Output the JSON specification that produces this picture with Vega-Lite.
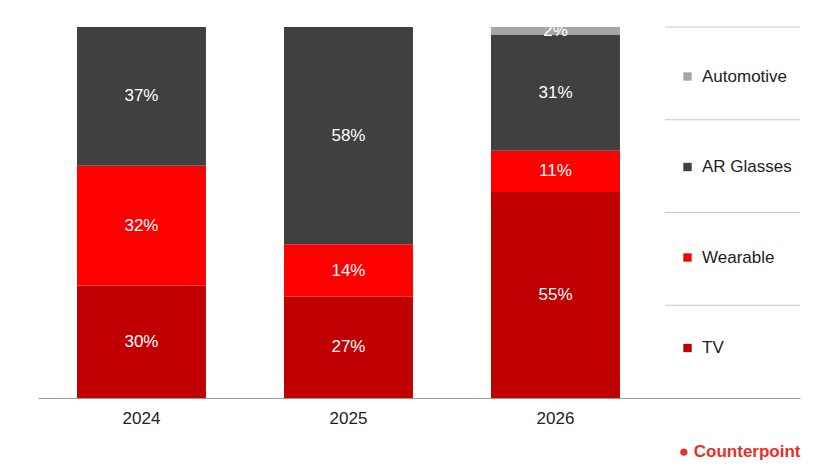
{
  "$schema": "https://vega.github.io/schema/vega-lite/v6.json",
  "autosize": "none",
  "width": 762,
  "height": 371,
  "padding": {"left": 38, "top": 27, "right": 16, "bottom": 73},
  "background": "white",
  "config": {"font": "Liberation Sans", "view": {"stroke": null}},
  "title": {"text": "● Counterpoint", "orient": "bottom", "anchor": "end", "color": "#e8302a", "fontSize": 17, "fontWeight": "bold", "offset": 18},
  "datasets": {
    "shares": [
      {"year": "2024", "segment": "TV", "rank": 1, "share": 30},
      {"year": "2024", "segment": "Wearable", "rank": 2, "share": 32},
      {"year": "2024", "segment": "AR Glasses", "rank": 3, "share": 37},
      {"year": "2025", "segment": "TV", "rank": 1, "share": 27},
      {"year": "2025", "segment": "Wearable", "rank": 2, "share": 14},
      {"year": "2025", "segment": "AR Glasses", "rank": 3, "share": 58},
      {"year": "2026", "segment": "TV", "rank": 1, "share": 55},
      {"year": "2026", "segment": "Wearable", "rank": 2, "share": 11},
      {"year": "2026", "segment": "AR Glasses", "rank": 3, "share": 31},
      {"year": "2026", "segment": "Automotive", "rank": 4, "share": 2}
    ],
    "separators": [{"y": 1}, {"y": 0.75}, {"y": 0.5}, {"y": 0.25}]
  },
  "layer": [
    {
      "data": {"name": "separators"},
      "mark": {"type": "rule", "color": "#c8c8c8", "strokeWidth": 1},
      "encoding": {
        "x": {"value": 627},
        "x2": {"value": 762},
        "y": {"field": "y", "type": "quantitative", "scale": {"domain": [0, 1]}, "axis": null}
      }
    },
    {
      "data": {"name": "shares"},
      "transform": [
        {"stack": "share", "groupby": ["year"], "sort": [{"field": "rank", "order": "ascending"}], "as": ["y0", "y1"], "offset": "normalize"},
        {"calculate": "(datum.y0 + datum.y1) / 2", "as": "ymid"},
        {"calculate": "datum.share + '%'", "as": "label"}
      ],
      "layer": [
        {
          "mark": {"type": "bar"},
          "encoding": {
            "x": {"field": "year", "type": "nominal", "scale": {"paddingInner": 0.377, "paddingOuter": 0.529, "align": 0.178},
              "axis": {"title": null, "labelAngle": 0, "labelFontSize": 17, "labelColor": "#222", "ticks": false, "domainColor": "#999", "labelPadding": 12}},
            "y": {"field": "y0", "type": "quantitative", "scale": {"domain": [0, 1]}, "axis": null},
            "y2": {"field": "y1"},
            "color": {"field": "segment", "type": "nominal",
              "scale": {"domain": ["Automotive", "AR Glasses", "Wearable", "TV"], "range": ["#a6a6a6", "#404040", "#ff0000", "#c00000"]},
              "legend": {"title": null, "orient": "none", "legendX": 641, "legendY": 41, "symbolType": "square", "symbolSize": 70, "labelFontSize": 17, "labelColor": "#222", "rowPadding": 72.5, "labelOffset": 6}}
          }
        },
        {
          "mark": {"type": "text", "color": "white", "fontSize": 17},
          "encoding": {
            "x": {"field": "year", "type": "nominal"},
            "y": {"field": "ymid", "type": "quantitative"},
            "text": {"field": "label", "type": "nominal"}
          }
        }
      ]
    }
  ]
}
